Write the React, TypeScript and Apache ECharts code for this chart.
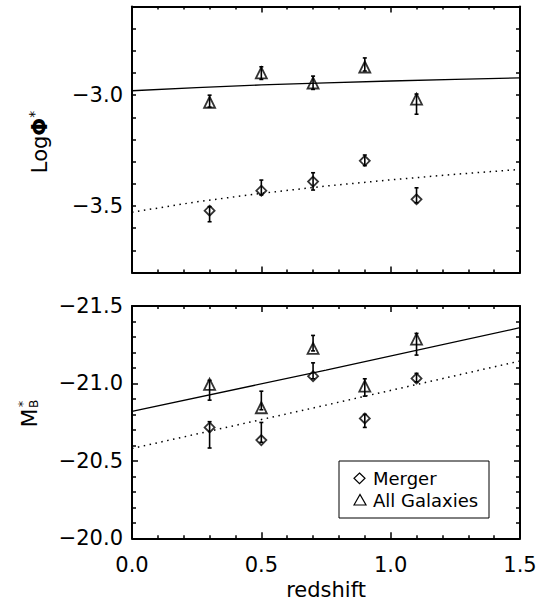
import React, { useEffect, useRef } from "react";
import * as echarts from "echarts";

// ---- data ----
const redshift = [0.3, 0.5, 0.7, 0.9, 1.1];

// top panel: Log Phi*
const phiAll = [-3.032, -2.899, -2.945, -2.873, -3.018];
const phiAllLow = [-3.054, -2.929, -2.974, -2.891, -3.086];
const phiAllHigh = [-3.0, -2.872, -2.914, -2.832, -2.995];
const phiMerger = [-3.521, -3.431, -3.39, -3.296, -3.47];
const phiMergerLow = [-3.571, -3.45, -3.428, -3.318, -3.485];
const phiMergerHigh = [-3.503, -3.383, -3.35, -3.27, -3.418];

// bottom panel: M_B*
const mAll = [-20.994, -20.843, -21.226, -20.983, -21.286];
const mAllFaint = [-20.892, -20.83, -21.21, -20.918, -21.183];
const mAllBright = [-21.02, -20.95, -21.31, -21.03, -21.323];
const mMerger = [-20.716, -20.634, -21.047, -20.774, -21.032];
const mMergerFaint = [-20.583, -20.62, -21.03, -20.716, -21.01];
const mMergerBright = [-20.753, -20.748, -21.133, -20.8, -21.065];

// fit curves
const fitZTop = [0, 0.25, 0.5, 0.75, 1.0, 1.25, 1.5];
const fitPhiAll = [-2.98, -2.966, -2.954, -2.945, -2.936, -2.929, -2.922];
const fitPhiMerger = [-3.528, -3.481, -3.443, -3.41, -3.382, -3.357, -3.335];
const fitZBottom = [0, 0.75, 1.5];
const fitMAll = [-20.82, -21.086, -21.36];
const fitMMerger = [-20.58, -20.86, -21.145];

const xTickLabels = ["0.0", "0.5", "1.0", "1.5"];
const legendNames = ["Merger", "All Galaxies"];

const FONT = "DejaVu Sans";
const BLACK = "#000";

const pairs = (xs: number[], ys: number[]) => xs.map((x, i) => [x, ys[i]]);
const triples = (xs: number[], a: number[], b: number[]) => xs.map((x, i) => [x, a[i], b[i]]);

const fmtY = (v: number) => v.toFixed(1).replace("-", "\u2212");

function errorRender(params: any, api: any) {
  const x = api.value(0);
  const p1 = api.coord([x, api.value(1)]);
  const p2 = api.coord([x, api.value(2)]);
  const w = 2;
  const st = { stroke: BLACK, lineWidth: 1.6 };
  return {
    type: "group",
    children: [
      { type: "line", shape: { x1: p1[0], y1: p1[1], x2: p2[0], y2: p2[1] }, style: st },
      { type: "line", shape: { x1: p1[0] - w, y1: p1[1], x2: p1[0] + w, y2: p1[1] }, style: st },
      { type: "line", shape: { x1: p2[0] - w, y1: p2[1], x2: p2[0] + w, y2: p2[1] }, style: st },
    ],
  };
}

export default function App() {
  const ref = useRef<HTMLDivElement>(null);
  useEffect(() => {
    if (!ref.current) return;
    const chart = echarts.init(ref.current, null, { renderer: "svg" });

    const axisLine = { show: true, onZero: false, lineStyle: { color: BLACK, width: 2 } };
    const tickStyle = { color: BLACK, width: 1.5 };
    const xBase = (gridIndex: number, position: string, labels: boolean) => ({
      type: "value",
      gridIndex,
      position,
      min: 0,
      max: 1.5,
      interval: 0.5,
      axisLine,
      axisTick: { show: true, inside: true, length: 6, lineStyle: tickStyle },
      minorTick: { show: true, splitNumber: 5, length: 3, lineStyle: tickStyle },
      splitLine: { show: false },
      minorSplitLine: { show: false },
      axisLabel: labels
        ? {
            show: true,
            margin: 16,
            fontFamily: FONT,
            fontSize: 21,
            color: BLACK,
            formatter: (v: number) => xTickLabels[Math.round(v / 0.5)] ?? "",
          }
        : { show: false },
    });
    const yTop = (position: string, labels: boolean) => ({
      type: "value",
      gridIndex: 0,
      position,
      min: -3.8,
      max: -2.6,
      interval: 0.1,
      axisLine,
      axisTick: { show: true, inside: true, length: 4, lineStyle: tickStyle },
      splitLine: { show: false },
      axisLabel: labels
        ? {
            show: true,
            margin: 9,
            fontFamily: FONT,
            fontSize: 21,
            color: BLACK,
            formatter: (v: number) => {
              const d = v * 2 - Math.round(v * 2);
              if (Math.abs(d) > 1e-6 || v < -3.75 || v > -2.65) return "";
              return fmtY(v);
            },
          }
        : { show: false },
    });
    const yBottom = (position: string, labels: boolean) => ({
      type: "value",
      gridIndex: 1,
      position,
      inverse: true,
      min: -21.5,
      max: -20.0,
      interval: 0.5,
      axisLine,
      axisTick: { show: true, inside: true, length: 6, lineStyle: tickStyle },
      minorTick: { show: true, splitNumber: 5, length: 4, lineStyle: tickStyle },
      splitLine: { show: false },
      minorSplitLine: { show: false },
      axisLabel: labels
        ? {
            show: true,
            margin: 9,
            fontFamily: FONT,
            fontSize: 21,
            color: BLACK,
            formatter: (v: number) => fmtY(v),
          }
        : { show: false },
    });

    const hollow = { color: "rgba(255,255,255,0)", borderColor: BLACK, borderWidth: 1.8 };

    const option: any = {
      animation: false,
      backgroundColor: "#fff",
      grid: [
        { left: 132, top: 6.5, width: 388, height: 266 },
        { left: 132, top: 306, width: 388, height: 232.3 },
      ],
      xAxis: [
        xBase(0, "bottom", false),
        xBase(0, "top", false),
        xBase(1, "bottom", true),
        xBase(1, "top", false),
      ],
      yAxis: [yTop("left", true), yTop("right", false), yBottom("left", true), yBottom("right", false)],
      series: [
        // top panel
        {
          type: "line",
          xAxisIndex: 0,
          yAxisIndex: 0,
          data: pairs(fitZTop, fitPhiAll),
          showSymbol: false,
          symbol: "none",
          lineStyle: { color: BLACK, width: 1.3 },
        },
        {
          type: "line",
          xAxisIndex: 0,
          yAxisIndex: 0,
          data: pairs(fitZTop, fitPhiMerger),
          showSymbol: false,
          symbol: "none",
          lineStyle: { color: BLACK, width: 1.5, type: [1.5, 4.5] },
        },
        {
          type: "custom",
          xAxisIndex: 0,
          yAxisIndex: 0,
          renderItem: errorRender,
          encode: { x: 0, y: [1, 2] },
          data: triples(redshift, phiAllLow, phiAllHigh),
        },
        {
          type: "custom",
          xAxisIndex: 0,
          yAxisIndex: 0,
          renderItem: errorRender,
          encode: { x: 0, y: [1, 2] },
          data: triples(redshift, phiMergerLow, phiMergerHigh),
        },
        {
          name: legendNames[1],
          type: "scatter",
          xAxisIndex: 0,
          yAxisIndex: 0,
          symbol: "triangle",
          symbolSize: [11, 11],
          itemStyle: hollow,
          data: pairs(redshift, phiAll),
        },
        {
          name: legendNames[0],
          type: "scatter",
          xAxisIndex: 0,
          yAxisIndex: 0,
          symbol: "diamond",
          symbolSize: [10, 10],
          itemStyle: hollow,
          data: pairs(redshift, phiMerger),
        },
        // bottom panel
        {
          type: "line",
          xAxisIndex: 2,
          yAxisIndex: 2,
          data: pairs(fitZBottom, fitMAll),
          showSymbol: false,
          symbol: "none",
          lineStyle: { color: BLACK, width: 1.3 },
        },
        {
          type: "line",
          xAxisIndex: 2,
          yAxisIndex: 2,
          data: pairs(fitZBottom, fitMMerger),
          showSymbol: false,
          symbol: "none",
          lineStyle: { color: BLACK, width: 1.5, type: [1.5, 4.5] },
        },
        {
          type: "custom",
          xAxisIndex: 2,
          yAxisIndex: 2,
          renderItem: errorRender,
          encode: { x: 0, y: [1, 2] },
          data: triples(redshift, mAllFaint, mAllBright),
        },
        {
          type: "custom",
          xAxisIndex: 2,
          yAxisIndex: 2,
          renderItem: errorRender,
          encode: { x: 0, y: [1, 2] },
          data: triples(redshift, mMergerFaint, mMergerBright),
        },
        {
          type: "scatter",
          xAxisIndex: 2,
          yAxisIndex: 2,
          symbol: "triangle",
          symbolSize: [11, 11],
          itemStyle: hollow,
          data: pairs(redshift, mAll),
        },
        {
          type: "scatter",
          xAxisIndex: 2,
          yAxisIndex: 2,
          symbol: "diamond",
          symbolSize: [10, 10],
          itemStyle: hollow,
          data: pairs(redshift, mMerger),
        },
      ],
      graphic: [
        // y-axis titles
        {
          type: "text",
          x: 40,
          y: 142,
          rotation: Math.PI / 2,
          style: {
            text: "Log{b|\u03A6}{s|*}",
            fontFamily: FONT,
            fontSize: 21,
            fill: BLACK,
            align: "center",
            verticalAlign: "middle",
            rich: {
              b: { fontFamily: FONT, fontSize: 21, fontWeight: "bold", fill: BLACK },
              s: { fontFamily: FONT, fontSize: 14, fill: BLACK, padding: [0, 0, 12, 0] },
            },
          },
        },
        {
          type: "text",
          x: 29,
          y: 418,
          rotation: Math.PI / 2,
          style: {
            text: "M",
            fontFamily: FONT,
            fontSize: 22,
            fill: BLACK,
            align: "center",
            verticalAlign: "middle",
          },
        },
        {
          type: "text",
          x: 34,
          y: 404,
          rotation: Math.PI / 2,
          style: {
            text: "B",
            fontFamily: FONT,
            fontSize: 12,
            fill: BLACK,
            align: "center",
            verticalAlign: "middle",
          },
        },
        {
          type: "text",
          x: 22,
          y: 404,
          rotation: Math.PI / 2,
          style: {
            text: "*",
            fontFamily: FONT,
            fontSize: 13,
            fill: BLACK,
            align: "center",
            verticalAlign: "middle",
          },
        },
        // x-axis title
        {
          type: "text",
          x: 326,
          y: 590,
          style: {
            text: "redshift",
            fontFamily: FONT,
            fontSize: 21,
            fill: BLACK,
            align: "center",
            verticalAlign: "middle",
          },
        },
        // legend
        {
          type: "rect",
          shape: { x: 339, y: 461, width: 150, height: 57 },
          style: { fill: "#fff", stroke: BLACK, lineWidth: 1 },
          z: 10,
        },
        {
          type: "polygon",
          shape: { points: [[359.5, 473], [365, 478.3], [359.5, 483.6], [354, 478.3]] },
          style: { fill: "none", stroke: BLACK, lineWidth: 1.2 },
          z: 11,
        },
        {
          type: "text",
          x: 373,
          y: 478.3,
          style: {
            text: legendNames[0],
            fontFamily: FONT,
            fontSize: 18,
            fill: BLACK,
            align: "left",
            verticalAlign: "middle",
          },
          z: 11,
        },
        {
          type: "polygon",
          shape: { points: [[354, 505], [360, 494.5], [366, 505]] },
          style: { fill: "none", stroke: BLACK, lineWidth: 1.2 },
          z: 11,
        },
        {
          type: "text",
          x: 373,
          y: 500,
          style: {
            text: legendNames[1],
            fontFamily: FONT,
            fontSize: 18,
            fill: BLACK,
            align: "left",
            verticalAlign: "middle",
          },
          z: 11,
        },
      ],
    };

    chart.setOption(option);
    return () => chart.dispose();
  }, []);

  return (
    <div
      ref={ref}
      style={{ position: "fixed", left: 0, top: 0, width: 540, height: 604, background: "#fff" }}
    />
  );
}
